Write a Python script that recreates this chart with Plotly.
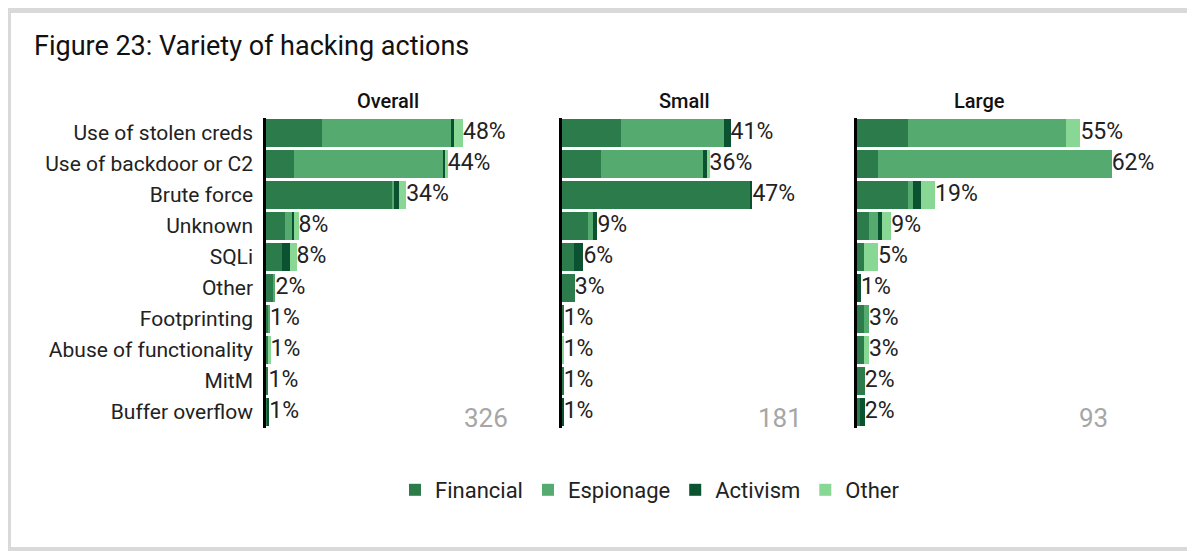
import plotly.graph_objects as go

categories = ["Use of stolen creds", "Use of backdoor or C2", "Brute force", "Unknown", "SQLi",
              "Other", "Footprinting", "Abuse of functionality", "MitM", "Buffer overflow"]
series_names = ["Financial", "Espionage", "Activism", "Other"]
series_colors = ["#2c7b4b", "#55aa6f", "#0b5230", "#89d795"]

overall_financial = [13.7, 6.9, 30.8, 4.7, 3.8, 1.8, 0.5, 0.4, 0.6, 0.3]
overall_espionage = [31.2, 36.0, 0.3, 1.5, 0.0, 0.5, 0.5, 0.0, 0.0, 0.0]
overall_activism = [0.7, 0.5, 1.1, 0.7, 2.0, 0.0, 0.0, 0.0, 0.0, 0.5]
overall_other = [2.2, 0.7, 1.8, 1.0, 1.6, 0.0, 0.0, 0.7, 0.0, 0.0]
overall_labels = ["48%", "44%", "34%", "8%", "8%", "2%", "1%", "1%", "1%", "1%"]

small_financial = [14.4, 9.5, 45.5, 6.2, 2.8, 3.1, 0.4, 0.0, 0.4, 0.0]
small_espionage = [24.8, 24.6, 0.0, 1.2, 0.0, 0.0, 0.0, 0.0, 0.0, 0.0]
small_activism = [1.7, 1.0, 0.7, 1.2, 2.4, 0.0, 0.0, 0.0, 0.0, 0.4]
small_other = [0.0, 0.7, 0.0, 0.0, 0.0, 0.0, 0.0, 0.4, 0.0, 0.0]
small_labels = ["41%", "36%", "47%", "9%", "6%", "3%", "1%", "1%", "1%", "1%"]

large_financial = [12.4, 5.1, 12.4, 2.9, 1.7, 0.0, 1.7, 1.7, 1.9, 0.7]
large_espionage = [38.4, 56.7, 1.2, 2.2, 0.0, 0.0, 1.2, 0.0, 0.0, 0.0]
large_activism = [0.0, 0.0, 1.95, 1.0, 0.0, 1.0, 0.0, 0.0, 0.0, 1.2]
large_other = [3.4, 0.0, 3.4, 2.2, 3.4, 0.0, 0.0, 1.2, 0.0, 0.0]
large_labels = ["55%", "62%", "19%", "9%", "5%", "1%", "3%", "3%", "2%", "2%"]

panel_titles = ["Overall", "Small", "Large"]
panel_counts = ["326", "181", "93"]

panels = [
    ([overall_financial, overall_espionage, overall_activism, overall_other], overall_labels),
    ([small_financial, small_espionage, small_activism, small_other], small_labels),
    ([large_financial, large_espionage, large_activism, large_other], large_labels),
]

OFF = 8  # page body margin offset
W, H = 1195 - OFF, 551 - OFF
FONT = "Roboto"
panel_left_px = [266, 562, 857]
panel_width_px = 258
x_max = 62.6
count_pos = [0.946, 0.938, 0.98]


def px_x(x):
    return (x - OFF) / W


def px_y(y):
    return 1 - (y - OFF) / H


fig = go.Figure()

for p, (series, labels) in enumerate(panels):
    xa = "x" if p == 0 else f"x{p+1}"
    ya = "y" if p == 0 else f"y{p+1}"
    for s, (name, color) in enumerate(zip(series_names, series_colors)):
        fig.add_trace(go.Bar(
            y=categories, x=series[s], orientation="h", name=name,
            marker=dict(color=color, line=dict(width=0)),
            legendgroup=name, showlegend=(p == 0),
            xaxis=xa, yaxis=ya, hoverinfo="skip"))
    totals = [sum(v) for v in zip(*series)]
    fig.add_trace(go.Scatter(
        y=categories, x=totals, mode="text", text=labels,
        textposition="middle right",
        textfont=dict(family=FONT, size=23, color="#222222"),
        showlegend=False, cliponaxis=False, hoverinfo="skip",
        xaxis=xa, yaxis=ya))

y_top_px, y_bot_px = 117.5, 427.5
ydom = [px_y(y_bot_px), px_y(y_top_px)]

layout = dict(
    template="none",
    width=W, height=H,
    margin=dict(l=0, r=0, t=0, b=0, autoexpand=False),
    paper_bgcolor="#d9d9d9", plot_bgcolor="rgba(0,0,0,0)",
    barmode="stack", bargap=0.1,
    font=dict(family=FONT, color="#222222"),
    showlegend=True,
    legend=dict(orientation="h", x=px_x(650), xanchor="center", y=px_y(490), yanchor="middle",
                font=dict(family=FONT, size=22, color="#222222"), traceorder="normal",
                bgcolor="rgba(0,0,0,0)", itemwidth=30),
)

for p in range(3):
    xk = "xaxis" if p == 0 else f"xaxis{p+1}"
    yk = "yaxis" if p == 0 else f"yaxis{p+1}"
    x0 = px_x(panel_left_px[p])
    x1 = px_x(panel_left_px[p] + panel_width_px)
    layout[xk] = dict(domain=[x0, x1], range=[0, x_max], showgrid=False, zeroline=False,
                      showticklabels=False, showline=False, fixedrange=True, automargin=False,
                      ticks="", anchor="y" if p == 0 else f"y{p+1}")
    layout[yk] = dict(domain=ydom, autorange="reversed", showgrid=False, zeroline=False,
                      showline=True, linecolor="#000000", linewidth=2.5, automargin=False,
                      showticklabels=(p == 0), ticks="", ticklabelstandoff=6,
                      tickfont=dict(family=FONT, size=21, color="#222222"),
                      anchor="x" if p == 0 else f"x{p+1}")

fig.update_layout(**layout)

# frame: white card over grey background (left strip x 3-11, top strip y 5-13, bottom y 547+)
fig.add_shape(type="rect", xref="paper", yref="paper", x0=px_x(11), x1=1.05,
              y0=px_y(547), y1=px_y(13),
              fillcolor="white", line=dict(width=0), layer="below")

fig.add_annotation(text="Figure 23: Variety of hacking actions", xref="paper", yref="paper",
                   x=px_x(32), y=px_y(46), xanchor="left", yanchor="middle", showarrow=False,
                   font=dict(family=FONT, size=27, color="#111111"))

for p in range(3):
    xd = "x domain" if p == 0 else f"x{p+1} domain"
    fig.add_annotation(text=panel_titles[p], xref="paper", yref="paper",
                       x=px_x(panel_left_px[p] + 122), y=px_y(101),
                       xanchor="center", yanchor="middle", showarrow=False,
                       font=dict(family=FONT, size=20, color="#111111", weight=500))
    fig.add_annotation(text=panel_counts[p], xref=xd, yref="paper",
                       x=count_pos[p], y=px_y(418), xanchor="right", yanchor="middle",
                       showarrow=False, font=dict(family=FONT, size=26, color="#a6a6a6"))

fig.write_html("out.html")
